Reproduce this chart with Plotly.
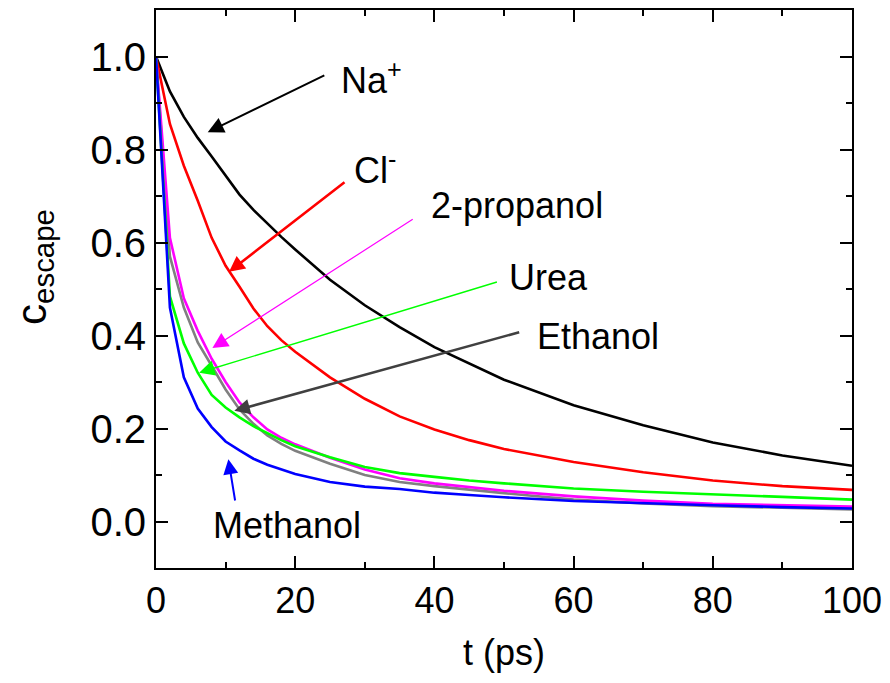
import plotly.graph_objects as go

# time axis (ps)
t = [0, 2, 4, 6, 8, 10, 12, 14, 16, 18, 20, 25, 30, 35, 40, 45, 50, 60, 70, 80, 90, 100]

na = [1.0, 0.925, 0.87, 0.825, 0.785, 0.743, 0.703, 0.67, 0.64, 0.612, 0.585, 0.52, 0.465, 0.418, 0.375, 0.34, 0.305, 0.25, 0.207, 0.17, 0.142, 0.12]
cl = [1.0, 0.855, 0.765, 0.69, 0.61, 0.55, 0.505, 0.458, 0.42, 0.39, 0.365, 0.31, 0.264, 0.226, 0.198, 0.175, 0.156, 0.128, 0.106, 0.088, 0.076, 0.068]
propanol = [1.0, 0.61, 0.48, 0.41, 0.35, 0.30, 0.256, 0.224, 0.198, 0.18, 0.166, 0.137, 0.112, 0.093, 0.082, 0.074, 0.066, 0.054, 0.045, 0.038, 0.035, 0.032]
ethanol = [1.0, 0.57, 0.46, 0.385, 0.335, 0.284, 0.241, 0.21, 0.185, 0.167, 0.152, 0.124, 0.1, 0.085, 0.076, 0.068, 0.061, 0.047, 0.039, 0.033, 0.029, 0.026]
urea = [1.0, 0.484, 0.383, 0.32, 0.272, 0.245, 0.224, 0.205, 0.19, 0.175, 0.162, 0.138, 0.117, 0.104, 0.096, 0.088, 0.082, 0.071, 0.064, 0.059, 0.053, 0.047]
methanol = [1.0, 0.46, 0.31, 0.243, 0.203, 0.172, 0.153, 0.135, 0.122, 0.112, 0.102, 0.085, 0.075, 0.07, 0.062, 0.057, 0.052, 0.044, 0.039, 0.035, 0.031, 0.028]

series = [
    ("Na+", na, "#000000"),
    ("Cl-", cl, "#FF0000"),
    ("Ethanol", ethanol, "#808080"),
    ("2-propanol", propanol, "#FF00FF"),
    ("Urea", urea, "#00FF00"),
    ("Methanol", methanol, "#0000FF"),
]

# label texts, text anchor positions (data), arrow tail & head (data)
labels = ["Na<sup>+</sup>", "Cl<sup>-</sup>", "2-propanol", "Urea", "Ethanol", "Methanol"]
label_x = [26.3, 28.2, 39.2, 50.4, 54.4, 7.9]
label_y = [0.954, 0.761, 0.68, 0.524, 0.398, -0.008]
arrow_tail_x = [24.4, 27.3, 37.1, 49.2, 52.4, 11.4]
arrow_tail_y = [0.961, 0.732, 0.652, 0.516, 0.408, 0.042]
arrow_head_x = [7.43, 10.5, 8.1, 6.2, 11.25, 10.4]
arrow_head_y = [0.837, 0.537, 0.373, 0.32, 0.238, 0.134]
arrow_colors = ["#000000", "#FF0000", "#FF00FF", "#00FF00", "#404040", "#0000FF"]
arrow_widths = [2.0, 2.6, 1.2, 1.4, 2.6, 2.0]
arrow_sizes = [1.6, 1.2, 2.6, 2.2, 1.2, 1.5]

FONT = "Arial, Liberation Sans, sans-serif"

fig = go.Figure()
for name, y, c in series:
    fig.add_trace(go.Scatter(x=t, y=y, mode="lines", name=name,
                             line=dict(color=c, width=2.6), showlegend=False))

for i in range(len(labels)):
    fig.add_annotation(x=arrow_head_x[i], y=arrow_head_y[i], ax=arrow_tail_x[i], ay=arrow_tail_y[i],
                       xref="x", yref="y", axref="x", ayref="y", text="", showarrow=True,
                       arrowhead=2, arrowsize=arrow_sizes[i], arrowwidth=arrow_widths[i],
                       arrowcolor=arrow_colors[i], standoff=0, startstandoff=0)
    fig.add_annotation(x=label_x[i], y=label_y[i], xref="x", yref="y", text=labels[i],
                       showarrow=False, xanchor="left", yanchor="middle",
                       font=dict(family=FONT, size=36, color="#000000"))

# y-axis title as rotated annotation
fig.add_annotation(x=-0.175, y=0.54, xref="paper", yref="paper", text="c<sub>escape</sub>",
                   textangle=-90, showarrow=False, xanchor="center", yanchor="middle",
                   font=dict(family=FONT, size=42, color="black"))

axis_common = dict(showline=True, linecolor="black", linewidth=2, mirror="ticks",
                   ticks="inside", ticklen=12, tickwidth=2, tickcolor="black",
                   showgrid=False, zeroline=False)

fig.update_xaxes(range=[0, 100], dtick=20, tick0=0,
                 tickfont=dict(family=FONT, size=36, color="black"),
                 minor=dict(ticks="inside", ticklen=6, tickwidth=2, tickcolor="black", dtick=10, showgrid=False),
                 title=dict(text="t (ps)", font=dict(family=FONT, size=36, color="black"), standoff=20),
                 **axis_common)
fig.update_yaxes(range=[-0.1, 1.1], dtick=0.2, tick0=0, tickformat=".1f",
                 tickfont=dict(family=FONT, size=40, color="black"),
                 minor=dict(ticks="inside", ticklen=6, tickwidth=2, tickcolor="black", dtick=0.1, showgrid=False),
                 **axis_common)

fig.update_layout(width=890, height=683, margin=dict(l=156, r=35, t=8, b=115),
                  plot_bgcolor="white", paper_bgcolor="white")

fig.write_html("out.html", config={"displayModeBar": False},
               post_script="document.body.style.margin='0px';")
